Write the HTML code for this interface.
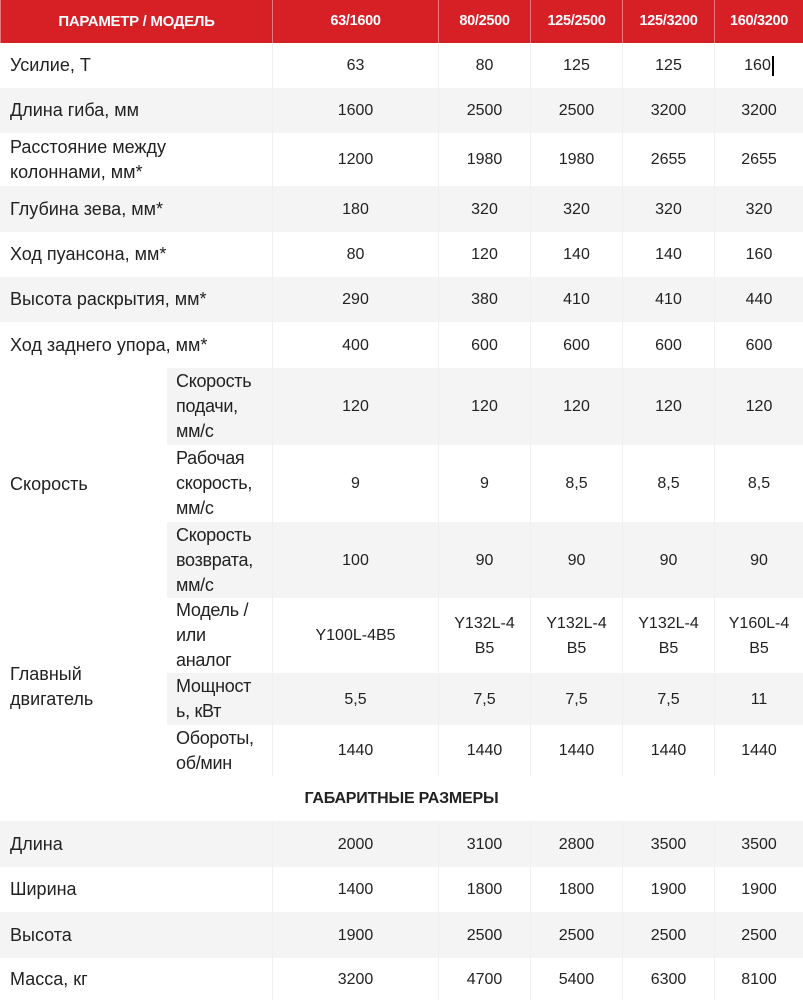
<!DOCTYPE html>
<html><head><meta charset="utf-8"><style>
body{margin:0;width:803px;height:1000px;overflow:hidden;background:#fff;font-family:"Liberation Sans",Arial,sans-serif;color:#222;position:relative}
.r{position:absolute;left:0;width:803px;display:flex}
.g{background:#f4f4f4}
.c{display:flex;align-items:center;justify-content:center;text-align:center;font-size:16px;line-height:25px;box-sizing:border-box;border-left:1px solid #f0f0f0}
.l{width:272px;justify-content:flex-start;text-align:left;padding-left:10px;font-size:18px;line-height:25px;border-left:none}
.w1{width:166px}.w2{width:92px}.w5{width:89px}
.h{background:#d71f26;color:#fff;font-weight:bold;letter-spacing:-0.3px}
.h .c{border-left:1px solid #e8777b;font-size:14.5px}
.sub{position:absolute;left:167px;width:105px;padding-left:9px;font-size:18px;line-height:25px;box-sizing:border-box;display:flex;align-items:center;letter-spacing:-0.3px}
</style></head><body>
<div class="r h" style="top:0;height:43px"><div class="c l" style="justify-content:center;padding-left:0;padding-right:0;font-size:15px">ПАРАМЕТР / МОДЕЛЬ</div><div class="c w1">63/1600</div><div class="c w2">80/2500</div><div class="c w2">125/2500</div><div class="c w2">125/3200</div><div class="c w5">160/3200</div></div>

<div class="r" style="top:43px;height:45px"><div class="c l">Усилие, Т</div><div class="c w1">63</div><div class="c w2">80</div><div class="c w2">125</div><div class="c w2">125</div><div class="c w5">160<span style="display:inline-block;width:2px;height:20px;background:#000;margin-left:1px"></span></div></div>
<div class="r g" style="top:88px;height:45px"><div class="c l">Длина гиба, мм</div><div class="c w1">1600</div><div class="c w2">2500</div><div class="c w2">2500</div><div class="c w2">3200</div><div class="c w5">3200</div></div>
<div class="r" style="top:133px;height:53px"><div class="c l">Расстояние между<br>колоннами, мм*</div><div class="c w1">1200</div><div class="c w2">1980</div><div class="c w2">1980</div><div class="c w2">2655</div><div class="c w5">2655</div></div>
<div class="r g" style="top:186px;height:46px"><div class="c l">Глубина зева, мм*</div><div class="c w1">180</div><div class="c w2">320</div><div class="c w2">320</div><div class="c w2">320</div><div class="c w5">320</div></div>
<div class="r" style="top:232px;height:45px"><div class="c l">Ход пуансона, мм*</div><div class="c w1">80</div><div class="c w2">120</div><div class="c w2">140</div><div class="c w2">140</div><div class="c w5">160</div></div>
<div class="r g" style="top:277px;height:45px"><div class="c l">Высота раскрытия, мм*</div><div class="c w1">290</div><div class="c w2">380</div><div class="c w2">410</div><div class="c w2">410</div><div class="c w5">440</div></div>
<div class="r" style="top:322px;height:46px"><div class="c l">Ход заднего упора, мм*</div><div class="c w1">400</div><div class="c w2">600</div><div class="c w2">600</div><div class="c w2">600</div><div class="c w5">600</div></div>

<div class="r g" style="top:368px;height:77px"><div class="c l" style="background:#fff"></div><div class="c w1">120</div><div class="c w2">120</div><div class="c w2">120</div><div class="c w2">120</div><div class="c w5">120</div></div>
<div class="r" style="top:445px;height:77px"><div class="c l"></div><div class="c w1">9</div><div class="c w2">9</div><div class="c w2">8,5</div><div class="c w2">8,5</div><div class="c w5">8,5</div></div>
<div class="r g" style="top:522px;height:76px"><div class="c l" style="background:#fff"></div><div class="c w1">100</div><div class="c w2">90</div><div class="c w2">90</div><div class="c w2">90</div><div class="c w5">90</div></div>
<div class="sub g" style="top:368px;height:77px">Скорость<br>подачи,<br>мм/с</div>
<div class="sub" style="top:445px;height:77px">Рабочая<br>скорость,<br>мм/с</div>
<div class="sub g" style="top:522px;height:76px">Скорость<br>возврата,<br>мм/с</div>
<div style="position:absolute;left:10px;top:472px;font-size:18px;line-height:25px">Скорость</div>

<div class="r" style="top:598px;height:75px"><div class="c l"></div><div class="c w1">Y100L-4B5</div><div class="c w2">Y132L-4<br>B5</div><div class="c w2">Y132L-4<br>B5</div><div class="c w2">Y132L-4<br>B5</div><div class="c w5">Y160L-4<br>B5</div></div>
<div class="r g" style="top:673px;height:52px"><div class="c l" style="background:#fff"></div><div class="c w1">5,5</div><div class="c w2">7,5</div><div class="c w2">7,5</div><div class="c w2">7,5</div><div class="c w5">11</div></div>
<div class="r" style="top:725px;height:51px"><div class="c l"></div><div class="c w1">1440</div><div class="c w2">1440</div><div class="c w2">1440</div><div class="c w2">1440</div><div class="c w5">1440</div></div>
<div class="sub" style="top:598px;height:75px">Модель /<br>или<br>аналог</div>
<div class="sub g" style="top:673px;height:52px">Мощност<br>ь, кВт</div>
<div class="sub" style="top:725px;height:51px">Обороты,<br>об/мин</div>
<div style="position:absolute;left:10px;top:662px;font-size:18px;line-height:25px">Главный<br>двигатель</div>

<div class="r" style="top:776px;height:45px;justify-content:center;align-items:center;font-weight:bold;font-size:16px;letter-spacing:-0.2px">ГАБАРИТНЫЕ РАЗМЕРЫ</div>
<div class="r g" style="top:821px;height:46px"><div class="c l">Длина</div><div class="c w1">2000</div><div class="c w2">3100</div><div class="c w2">2800</div><div class="c w2">3500</div><div class="c w5">3500</div></div>
<div class="r" style="top:867px;height:45px"><div class="c l">Ширина</div><div class="c w1">1400</div><div class="c w2">1800</div><div class="c w2">1800</div><div class="c w2">1900</div><div class="c w5">1900</div></div>
<div class="r g" style="top:912px;height:46px"><div class="c l">Высота</div><div class="c w1">1900</div><div class="c w2">2500</div><div class="c w2">2500</div><div class="c w2">2500</div><div class="c w5">2500</div></div>
<div class="r" style="top:958px;height:42px"><div class="c l">Масса, кг</div><div class="c w1">3200</div><div class="c w2">4700</div><div class="c w2">5400</div><div class="c w2">6300</div><div class="c w5">8100</div></div>
</body></html>
